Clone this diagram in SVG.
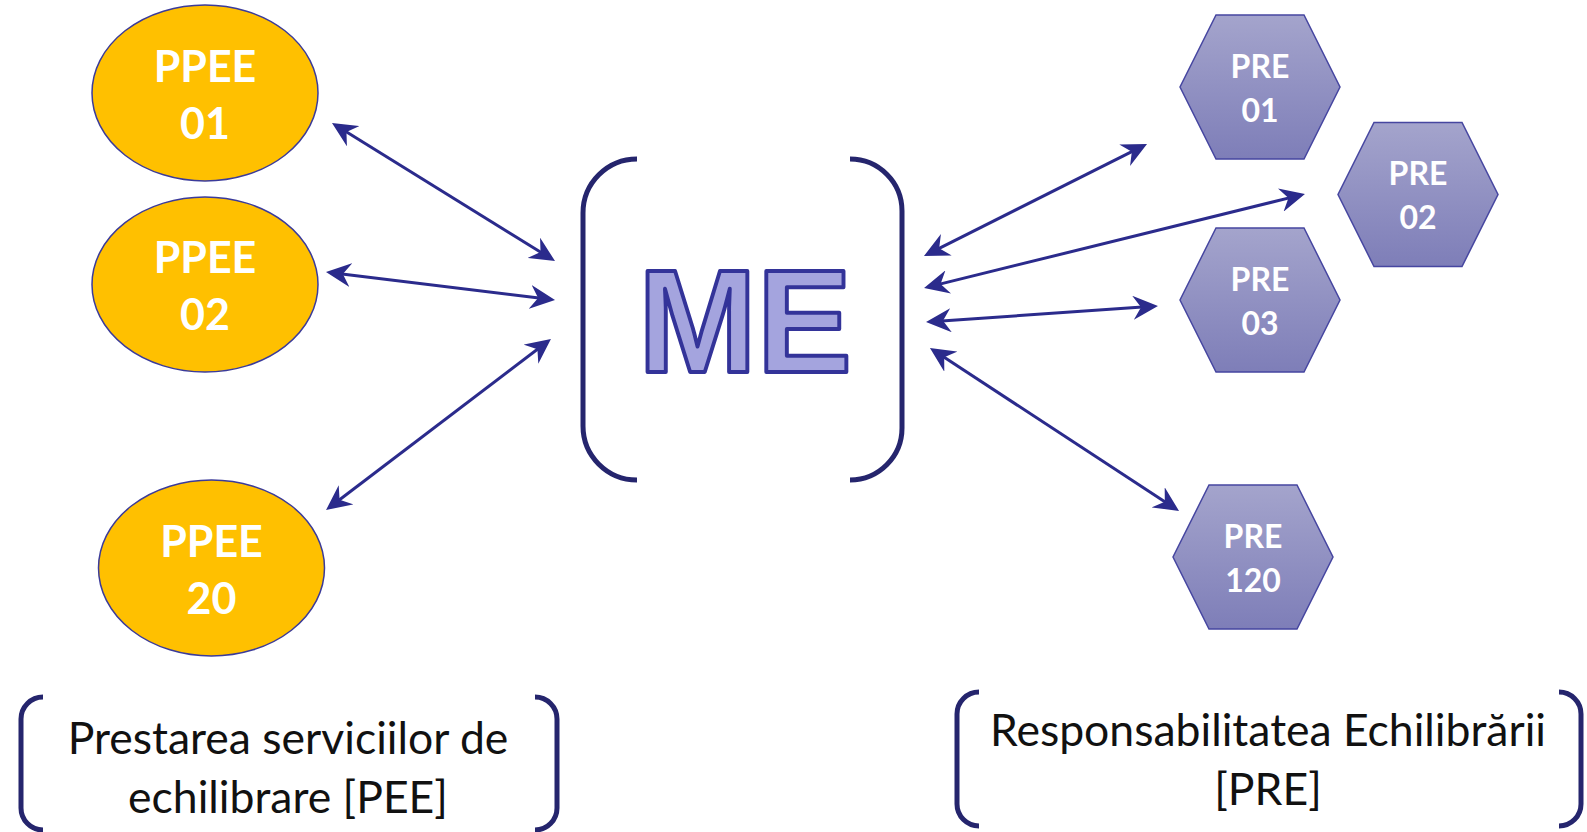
<svg xmlns="http://www.w3.org/2000/svg" width="1587" height="832" viewBox="0 0 1587 832">
<style>
.ell{fill:#ffc000;stroke:#3b3b9a;stroke-width:1.5}
.hex{fill:url(#hg);stroke:#4646a0;stroke-width:1.5}
.wt{font-family:Lato,"Open Sans",sans-serif;font-weight:bold;fill:#ffffff;text-anchor:middle}
.e{font-size:43px}
.h{font-size:32px}
.br{fill:none;stroke:#25256d;stroke-width:5;stroke-linecap:butt}
.cap{font-family:Lato,"Open Sans",sans-serif;font-size:44.5px;fill:#111111;text-anchor:middle}
.con line{stroke:#2b2b8c;stroke-width:3;marker-start:url(#ah);marker-end:url(#ah)}
</style>
<defs>
<linearGradient id="hg" x1="0" y1="0" x2="0" y2="1">
<stop offset="0" stop-color="#a4a4cc"/>
<stop offset="1" stop-color="#7e7eb8"/>
</linearGradient>
<marker id="ah" viewBox="0 0 25 24" refX="13" refY="12" markerWidth="25" markerHeight="24" markerUnits="userSpaceOnUse" orient="auto-start-reverse">
<path d="M25 12 L0 0 L8 12 L0 24 Z" fill="#2b2b8c"/>
</marker>
</defs>
<rect width="1587" height="832" fill="#ffffff"/>

<g id="ppee01">
<ellipse class="ell" cx="205" cy="93" rx="113" ry="88"/>
<text class="wt e" x="205" y="82">PPEE</text>
<text class="wt e" x="205" y="139">01</text>
</g>
<g id="ppee02">
<ellipse class="ell" cx="205" cy="284.5" rx="113" ry="87.5"/>
<text class="wt e" x="205" y="273">PPEE</text>
<text class="wt e" x="205" y="330">02</text>
</g>
<g id="ppee20">
<ellipse class="ell" cx="211.5" cy="568" rx="113" ry="88"/>
<text class="wt e" x="211.5" y="557">PPEE</text>
<text class="wt e" x="211.5" y="614">20</text>
</g>

<g id="me">
<path class="br" d="M637 159 A54 54 0 0 0 583 213 L583 426 A54 54 0 0 0 637 480"/>
<path class="br" d="M850 159 A52 52 0 0 1 902 211 L902 428 A52 52 0 0 1 850 480"/>
<text x="745" y="372" font-family="'Liberation Sans',Arial,sans-serif" font-weight="bold" font-size="146" textLength="214" lengthAdjust="spacingAndGlyphs" fill="#a4a4de" stroke="#333399" stroke-width="4" stroke-linejoin="round" text-anchor="middle">ME</text>
</g>

<g id="pre01">
<polygon class="hex" points="1216,15 1304,15 1340,87 1304,159 1216,159 1180,87"/>
<text class="wt h" x="1260" y="78">PRE</text>
<text class="wt h" x="1260" y="122">01</text>
</g>
<g id="pre02">
<polygon class="hex" points="1374,122.5 1462,122.5 1498,194.5 1462,266.5 1374,266.5 1338,194.5"/>
<text class="wt h" x="1418" y="185">PRE</text>
<text class="wt h" x="1418" y="229">02</text>
</g>
<g id="pre03">
<polygon class="hex" points="1216,228 1304,228 1340,300 1304,372 1216,372 1180,300"/>
<text class="wt h" x="1260" y="291">PRE</text>
<text class="wt h" x="1260" y="335">03</text>
</g>
<g id="pre120">
<polygon class="hex" points="1209,485 1297,485 1333,557 1297,629 1209,629 1173,557"/>
<text class="wt h" x="1253" y="548">PRE</text>
<text class="wt h" x="1253" y="592">120</text>
</g>

<g id="label-pee">
<path class="br" d="M43 697 A22 22 0 0 0 21 719 L21 808 A22 22 0 0 0 43 830"/>
<path class="br" d="M535 697 A22 22 0 0 1 557 719 L557 808 A22 22 0 0 1 535 830"/>
<text class="cap" x="288" y="754">Prestarea serviciilor de</text>
<text class="cap" x="288" y="813">echilibrare [PEE]</text>
</g>
<g id="label-pre">
<path class="br" d="M979 692 A22 22 0 0 0 957 714 L957 804 A22 22 0 0 0 979 826"/>
<path class="br" d="M1559 692 A22 22 0 0 1 1581 714 L1581 804 A22 22 0 0 1 1559 826"/>
<text class="cap" x="1268" y="746">Responsabilitatea Echilibrării</text>
<text class="cap" x="1268" y="805">[PRE]</text>
</g>

<g id="connectors" class="con">
<line x1="342.2" y1="129.3" x2="544.8" y2="254.7"/>
<line x1="337.9" y1="273.5" x2="543.1" y2="298.5"/>
<line x1="541.4" y1="346.3" x2="335.6" y2="502.7"/>
<line x1="934.7" y1="250.6" x2="1136.3" y2="149.4"/>
<line x1="935.7" y1="285.1" x2="1293.3" y2="196.9"/>
<line x1="938.0" y1="321.2" x2="1146.0" y2="306.8"/>
<line x1="940.0" y1="354.6" x2="1169.0" y2="504.4"/>
</g>
</svg>
